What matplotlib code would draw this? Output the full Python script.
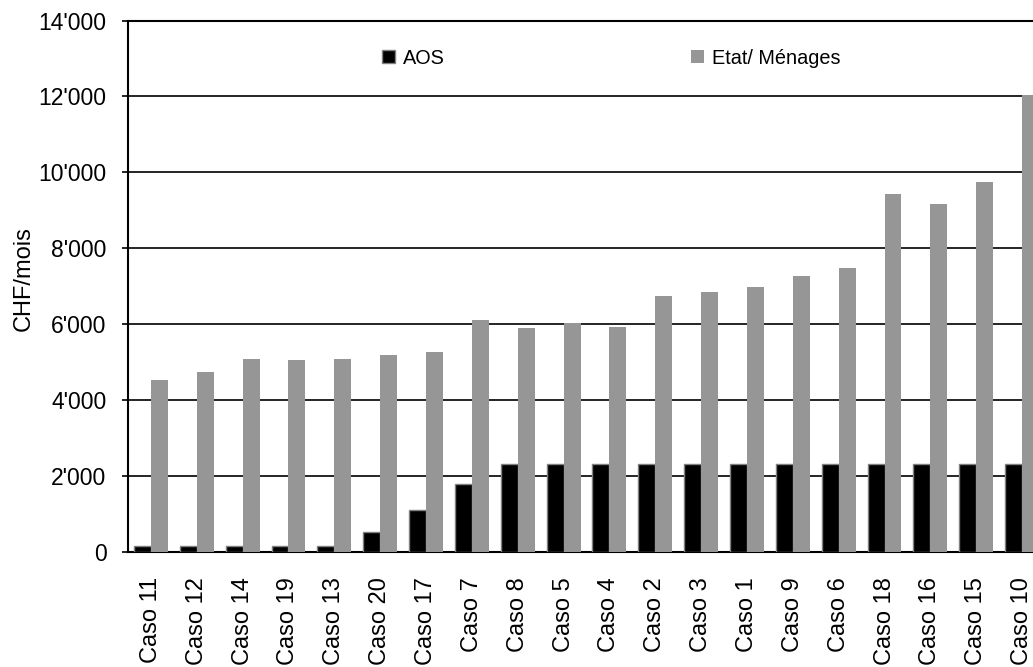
import numpy as np
import matplotlib
matplotlib.use("Agg")
import matplotlib.pyplot as plt
from matplotlib.ticker import FuncFormatter, MultipleLocator
from matplotlib.patches import Patch

plt.rcParams['font.family'] = ['Liberation Sans', 'DejaVu Sans']

# Cases, ordered as displayed
cases = ["Caso 11", "Caso 12", "Caso 14", "Caso 19", "Caso 13", "Caso 20", "Caso 17",
         "Caso 7", "Caso 8", "Caso 5", "Caso 4", "Caso 2", "Caso 3", "Caso 1",
         "Caso 9", "Caso 6", "Caso 18", "Caso 16", "Caso 15", "Caso 10"]

# Monthly costs in CHF
aos = [150, 150, 150, 150, 150, 520, 1100, 1790, 2320, 2320,
       2320, 2320, 2320, 2320, 2320, 2320, 2320, 2320, 2320, 2320]
etat_menages = [4530, 4740, 5080, 5050, 5080, 5180, 5270, 6110, 5900, 6020,
                5920, 6750, 6840, 6980, 7260, 7480, 9420, 9160, 9740, 12050]

series_labels = ["AOS", "Etat/ Ménages"]
y_max = 14000
y_step = 2000

fig = plt.figure(figsize=(10.33, 6.67), dpi=100)
W, H = 1033, 667
left_px, bottom_px, top_px = 128, 552, 20.5
cat_px = 45.85
ax = fig.add_axes([left_px / W, 1 - bottom_px / H,
                   cat_px * len(cases) / W, (bottom_px - top_px) / H])

x = np.arange(len(cases))
bw = 0.37
black_col = "#000000"
gray_col = "#969696"

ax.bar(x - bw / 2, aos, width=bw, color=black_col, edgecolor="#808080",
       linewidth=1.0, zorder=3)
ax.bar(x + bw / 2, etat_menages, width=bw, color=gray_col, edgecolor="none",
       zorder=3)

ax.set_xlim(-0.5, len(cases) - 0.5)
ax.set_ylim(0, y_max)
ax.yaxis.set_major_locator(MultipleLocator(y_step))
ax.yaxis.set_major_formatter(FuncFormatter(lambda v, p: f"{int(v):,}".replace(",", "'")))

ax.set_axisbelow(True)
ax.grid(axis="y", color="black", linewidth=1.2, zorder=0)
ax.grid(axis="x", visible=False)

for s in ["left", "bottom", "top"]:
    ax.spines[s].set_linewidth(1.5)
    ax.spines[s].set_color("black")
ax.spines["right"].set_visible(False)

ax.set_xticks(x)
ax.set_xticklabels(cases, rotation=90, fontsize=17, va="top", ha="center")
ax.tick_params(axis="x", length=0, pad=18)
ax.tick_params(axis="y", direction="out", length=4.5, width=1.2, labelsize=16.5, pad=11)

ax.set_ylabel("CHF/mois", fontsize=17)
ax.yaxis.set_label_coords((35 - left_px) / (cat_px * len(cases)), 0.515)

handles = [Patch(facecolor=black_col, edgecolor="#808080", linewidth=1.0),
           Patch(facecolor=gray_col, edgecolor="none")]
ax.legend(handles, series_labels, loc="center left",
          bbox_to_anchor=((382 - left_px) / (cat_px * len(cases)), (bottom_px - 58) / (bottom_px - top_px)),
          ncol=2, frameon=False, fontsize=14.3, handlelength=0.66, handleheight=0.66,
          handletextpad=0.4, columnspacing=12.4, borderpad=0, borderaxespad=0)

fig.savefig("out.png", dpi=100)
